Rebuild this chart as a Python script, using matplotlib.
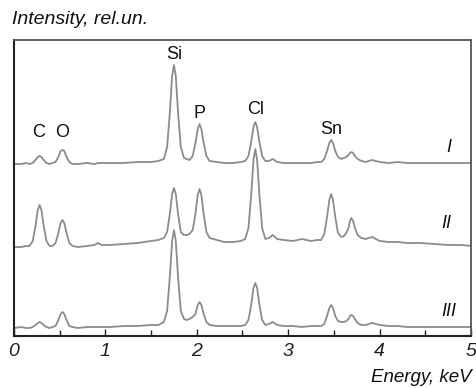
import matplotlib
matplotlib.use("Agg")
import matplotlib.pyplot as plt

plt.rcParams['font.family'] = ['Liberation Sans', 'DejaVu Sans']

# energy grid, keV (denser around the peaks)
energy = [0.00, 0.08, 0.13,
          0.17, 0.205, 0.235, 0.26, 0.28, 0.30, 0.325, 0.355, 0.39,
          0.42, 0.455, 0.485, 0.51, 0.53, 0.55, 0.575, 0.605, 0.64,
          0.70, 0.80, 0.88, 0.92, 0.96, 1.05, 1.20, 1.35, 1.50, 1.58,
          1.64, 1.675, 1.705, 1.73, 1.75, 1.77, 1.795, 1.825, 1.86,
          1.89,
          1.92, 1.955, 1.985, 2.01, 2.03, 2.05, 2.075, 2.105, 2.14,
          2.22, 2.30, 2.40, 2.48,
          2.53, 2.565, 2.595, 2.62, 2.64, 2.66, 2.685, 2.715, 2.75,
          2.79, 2.83, 2.88,
          2.95, 3.05, 3.15, 3.25, 3.32,
          3.36, 3.395, 3.425, 3.45, 3.47, 3.49, 3.515, 3.545, 3.58,
          3.61, 3.635, 3.66, 3.675, 3.69, 3.71, 3.73, 3.76, 3.80,
          3.85, 3.88, 3.92, 3.96, 4.00,
          4.10, 4.20, 4.30, 4.45, 4.60, 4.75, 4.90, 5.00]

# intensities, rel. units (curves already stacked)
spec_I = [172, 172, 173,
          172, 173, 176, 179, 180, 179, 176, 173, 172,
          173, 174, 179, 185, 186, 185, 179, 174, 172,
          172, 173, 172, 173, 173, 173, 173, 174, 174, 175,
          177, 189, 223, 260, 271, 260, 223, 189, 178,
          177,
          176, 180, 193, 207, 212, 207, 193, 180, 175,
          174, 173, 173, 174,
          175, 180, 194, 209, 214, 209, 194, 180, 175,
          175, 177, 174,
          173, 173, 173, 173, 174,
          174, 177, 185, 193, 196, 193, 185, 179, 177,
          178, 179, 181, 183, 184, 183, 180, 177, 175,
          174, 175, 176, 175, 174,
          173, 174, 173, 173, 173, 173, 173, 173]

spec_II = [89, 89, 90,
           90, 95, 110, 126, 131, 126, 110, 95, 90,
           90, 93, 103, 113, 116, 113, 103, 93, 90,
           89, 90, 91, 93, 91, 91, 92, 93, 95, 96,
           98, 104, 122, 142, 148, 142, 122, 104, 101,
           101,
           102, 106, 122, 141, 147, 141, 122, 104, 98,
           96, 94, 94, 95,
           97, 108, 141, 176, 187, 176, 141, 108, 97,
           98, 101, 97,
           96, 95, 97, 95, 96,
           96, 102, 119, 136, 142, 136, 119, 103, 99,
           100, 103, 108, 115, 118, 115, 108, 101, 98,
           97, 98, 99, 97, 95,
           94, 94, 93, 93, 92, 91, 91, 90]

spec_III = [8, 9, 8,
            8, 9, 11, 13, 14, 13, 11, 9, 8,
            9, 10, 16, 22, 24, 22, 16, 10, 9,
            8, 9, 9, 9, 9, 9, 10, 10, 11, 11,
            14, 25, 59, 95, 106, 95, 59, 25, 17,
            16,
            17, 19, 22, 31, 34, 31, 22, 14, 11,
            10, 10, 10, 10,
            11, 16, 31, 48, 53, 48, 31, 16, 11,
            12, 14, 11,
            10, 10, 9, 10, 10,
            10, 12, 20, 28, 31, 28, 20, 15, 14,
            14, 15, 17, 20, 21, 20, 17, 13, 11,
            11, 12, 13, 12, 11,
            10, 10, 9, 9, 9, 9, 9, 9]

elements = ['C', 'O', 'Si', 'P', 'Cl', 'Sn']
element_x = [0.27, 0.53, 1.75, 2.03, 2.64, 3.47]
element_y = [204, 204, 282, 222, 226, 206]

curve_names = ['I', 'II', 'III']
curve_name_x = [4.76, 4.73, 4.76]
curve_name_y = [189, 113, 25]

xticks = [0, 1, 2, 3, 4, 5]
xtick_labels = ['0', '1', '2', '3', '4', '5']
minor_ticks = [0.5, 1.5, 2.5, 3.5, 4.5]

fig = plt.figure(figsize=(4.77, 3.88), dpi=100)
ax = fig.add_axes([14 / 477, 52 / 388, 457 / 477, 296 / 388])

for s in (spec_I, spec_II, spec_III):
    ax.plot(energy, s, color='#8c8c8c', lw=1.3)

for name, x, y in zip(elements, element_x, element_y):
    ax.text(x, y, name, ha='center', va='center', fontsize=13, color='#111111')

for name, x, y in zip(curve_names, curve_name_x, curve_name_y):
    ax.text(x, y, name, ha='center', va='center', fontsize=13,
            style='italic', color='#111111')

ax.set_xlim(0, 5)
ax.set_ylim(0, 296)
ax.set_yticks([])
ax.set_xticks(xticks, labels=xtick_labels, fontstyle='italic', fontsize=14)
ax.set_xticks(minor_ticks, minor=True)
ax.tick_params(axis='x', which='major', direction='in', length=5, width=1,
               pad=5, colors='#222222')
ax.tick_params(axis='x', which='minor', direction='in', length=4, width=1,
               colors='#222222')

for side in ['left', 'bottom']:
    ax.spines[side].set_color('#222222')
    ax.spines[side].set_linewidth(1.5)
for side in ['top', 'right']:
    ax.spines[side].set_color('#555555')
    ax.spines[side].set_linewidth(1.3)

fig.text(12 / 477, 1 - 20 / 388, 'Intensity, rel.un.', ha='left', va='center',
         fontsize=14, style='italic', color='#111111')
fig.text(472 / 477, 1 - 377 / 388, 'Energy, keV', ha='right', va='center',
         fontsize=13.5, style='italic', color='#111111')

fig.savefig('out.png', dpi=100)
